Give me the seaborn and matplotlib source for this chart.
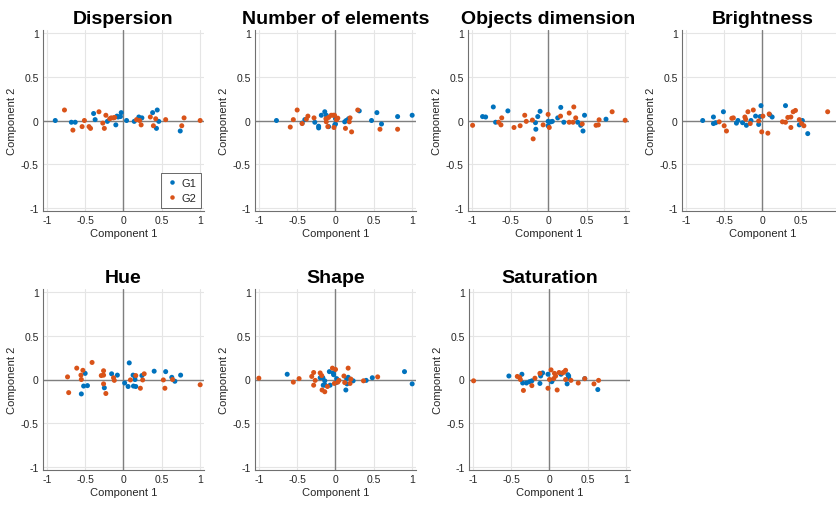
import seaborn as sns
import matplotlib.pyplot as plt
import pandas as pd

# (component 1, component 2) pairs, per panel and group
disp_g1 = [(-0.89, 0.0), (-0.68, -0.02), (-0.63, -0.02), (-0.39, 0.08), (-0.37, 0.01),
           (-0.21, -0.01), (-0.10, -0.05), (-0.085, 0.05), (-0.07, 0.04), (-0.03, 0.09),
           (-0.04, 0.045), (0.04, 0.0), (0.14, -0.01), (0.20, 0.04), (0.24, 0.03),
           (0.38, 0.09), (0.44, 0.12), (0.43, -0.09), (0.46, -0.01), (0.74, -0.12)]
disp_g2 = [(-0.77, 0.12), (-0.66, -0.11), (-0.54, -0.07), (-0.51, 0.0), (-0.45, -0.07),
           (-0.43, -0.09), (-0.32, 0.10), (-0.27, -0.03), (-0.25, -0.09), (-0.23, 0.06),
           (-0.18, 0.02), (-0.16, 0.03), (-0.13, 0.03), (-0.115, 0.035), (0.17, 0.01),
           (0.21, 0.0), (0.23, -0.05), (0.35, 0.04), (0.39, -0.06), (0.42, 0.02),
           (0.55, 0.01), (0.76, -0.06), (0.79, 0.03), (1.0, 0.0)]

num_g1 = [(-0.77, 0.0), (-0.40, 0.01), (-0.435, -0.03), (-0.27, -0.02), (-0.22, -0.065),
          (-0.22, -0.085), (-0.185, 0.06), (-0.14, 0.10), (-0.12, 0.06), (-0.09, -0.07),
          (-0.01, -0.05), (0.0, -0.04), (0.0, 0.02), (0.12, -0.015), (0.14, 0.0),
          (0.17, 0.02), (0.31, 0.11), (0.47, 0.0), (0.54, 0.09), (0.60, -0.04),
          (0.81, 0.045), (1.0, 0.06)]
num_g2 = [(-0.59, -0.075), (-0.55, 0.01), (-0.50, 0.12), (-0.435, -0.035), (-0.38, 0.015),
          (-0.36, 0.05), (-0.28, 0.03), (-0.125, 0.02), (-0.12, -0.015), (-0.10, -0.07),
          (-0.09, 0.035), (-0.056, 0.06), (-0.03, 0.06), (-0.013, 0.06), (-0.02, -0.08),
          (0.03, 0.027), (0.013, 0.008), (0.13, -0.09), (0.19, 0.03), (0.18, -0.015),
          (0.21, -0.13), (0.29, 0.12), (0.58, -0.10), (0.81, -0.10)]

obj_g1 = [(-0.86, 0.045), (-0.82, 0.04), (-0.72, 0.155), (-0.69, -0.02), (-0.53, 0.11),
          (-0.17, -0.025), (-0.165, -0.10), (-0.14, 0.045), (-0.11, 0.105), (-0.005, -0.01),
          (-0.005, -0.06), (0.03, -0.015), (0.05, -0.01), (0.12, 0.03), (0.16, 0.15),
          (0.20, -0.02), (0.38, -0.02), (0.42, -0.055), (0.45, -0.12), (0.47, 0.06),
          (0.75, 0.015)]
obj_g2 = [(-0.99, -0.055), (-0.65, -0.02), (-0.62, -0.05), (-0.61, 0.03), (-0.45, -0.08),
          (-0.37, -0.06), (-0.31, 0.06), (-0.29, -0.01), (-0.21, 0.005), (-0.20, -0.21),
          (-0.07, -0.05), (-0.005, 0.07), (0.01, -0.08), (0.157, 0.05), (0.27, 0.085),
          (0.27, -0.02), (0.32, -0.02), (0.33, 0.155), (0.355, 0.03), (0.44, -0.04),
          (0.62, -0.055), (0.65, -0.05), (0.66, 0.008), (0.83, 0.10), (1.0, 0.003)]

bri_g1 = [(-0.78, 0.0), (-0.64, 0.04), (-0.64, -0.035), (-0.61, -0.025), (-0.51, 0.10),
          (-0.34, -0.03), (-0.32, 0.0), (-0.26, -0.025), (-0.21, -0.055), (-0.15, 0.0),
          (-0.09, 0.05), (-0.05, -0.045), (-0.02, 0.17), (-0.03, 0.045), (0.095, 0.065),
          (0.126, 0.04), (0.30, 0.17), (0.48, -0.05), (0.52, 0.0), (0.59, -0.15)]
bri_g2 = [(-0.565, -0.015), (-0.50, -0.06), (-0.47, -0.12), (-0.40, 0.025), (-0.38, 0.03),
          (-0.23, 0.04), (-0.22, 0.015), (-0.19, 0.10), (-0.16, -0.035), (-0.12, 0.12),
          (-0.05, -0.005), (-0.01, -0.13), (0.005, 0.05), (0.07, -0.145), (0.087, 0.075),
          (0.26, -0.015), (0.30, -0.02), (0.33, 0.035), (0.37, 0.04), (0.37, -0.08),
          (0.40, 0.10), (0.43, 0.115), (0.48, 0.01), (0.51, -0.035), (0.54, -0.06),
          (0.85, 0.10), (1.0, -0.04)]

hue_g1 = [(-0.55, -0.165), (-0.52, -0.075), (-0.50, 0.07), (-0.47, -0.07), (-0.25, -0.095),
          (-0.155, 0.065), (-0.08, 0.05), (0.015, -0.04), (0.06, -0.08), (0.075, 0.19),
          (0.125, 0.05), (0.13, -0.075), (0.15, 0.035), (0.15, 0.0), (0.16, -0.08),
          (0.24, 0.045), (0.40, 0.095), (0.55, 0.09), (0.63, 0.025), (0.67, -0.02),
          (0.745, 0.05)]
hue_g2 = [(-0.73, 0.03), (-0.715, -0.15), (-0.61, 0.13), (-0.555, 0.05), (-0.55, 0.0),
          (-0.53, 0.105), (-0.41, 0.195), (-0.29, 0.045), (-0.26, 0.05), (-0.26, 0.10),
          (-0.26, -0.05), (-0.23, -0.16), (-0.13, 0.02), (-0.12, -0.01), (0.09, -0.005),
          (0.16, 0.045), (0.22, -0.10), (0.25, -0.005), (0.27, 0.065), (0.52, -0.005),
          (0.54, -0.10), (0.64, 0.0), (1.0, -0.06)]

shp_g1 = [(-0.63, 0.06), (-0.20, 0.02), (-0.165, 0.02), (-0.16, -0.065), (-0.14, -0.015),
          (-0.135, -0.065), (-0.08, 0.09), (-0.07, -0.065), (-0.03, 0.075), (-0.025, 0.055),
          (0.015, 0.01), (0.01, -0.035), (0.135, -0.12), (0.145, 0.01), (0.15, -0.05),
          (0.165, 0.025), (0.23, -0.015), (0.40, -0.01), (0.48, 0.02), (0.90, 0.09),
          (1.0, -0.05)]
shp_g2 = [(-1.0, 0.015), (-0.55, -0.03), (-0.475, 0.01), (-0.31, 0.035), (-0.285, 0.08),
          (-0.285, -0.065), (-0.265, -0.01), (-0.20, 0.075), (-0.18, 0.045), (-0.175, -0.12),
          (-0.14, -0.14), (-0.105, -0.08), (-0.04, 0.13), (0.0, 0.115), (-0.015, -0.045),
          (0.03, -0.03), (0.045, -0.01), (0.11, 0.04), (0.12, -0.035), (0.165, 0.13),
          (0.19, -0.045), (0.20, 0.005), (0.365, -0.015), (0.55, 0.03)]

sat_g1 = [(-0.53, 0.04), (-0.36, 0.06), (-0.35, -0.04), (-0.30, -0.04), (-0.26, -0.025),
          (-0.23, -0.015), (-0.125, -0.045), (-0.115, 0.055), (-0.115, 0.04), (-0.09, 0.075),
          (-0.02, 0.06), (0.03, -0.025), (0.035, -0.01), (0.15, 0.06), (0.23, -0.05),
          (0.24, 0.055), (0.25, 0.02), (0.25, 0.04), (0.46, 0.01), (0.63, -0.115)]
sat_g2 = [(-0.99, -0.015), (-0.42, 0.035), (-0.39, 0.025), (-0.38, 0.0), (-0.34, -0.125),
          (-0.23, -0.07), (-0.19, 0.015), (-0.125, 0.07), (-0.02, -0.10), (0.0, 0.0),
          (0.02, 0.11), (0.055, 0.01), (0.065, 0.07), (0.08, 0.04), (0.10, -0.12),
          (0.125, 0.08), (0.17, 0.075), (0.19, 0.085), (0.21, 0.105), (0.21, 0.0),
          (0.28, -0.01), (0.375, -0.04), (0.46, 0.01), (0.58, -0.05), (0.64, -0.01)]

titles = ["Dispersion", "Number of elements", "Objects dimension", "Brightness",
          "Hue", "Shape", "Saturation"]
panels = [(disp_g1, disp_g2), (num_g1, num_g2), (obj_g1, obj_g2), (bri_g1, bri_g2),
          (hue_g1, hue_g2), (shp_g1, shp_g2), (sat_g1, sat_g2)]
ticks = [-1, -0.5, 0, 0.5, 1]
tick_labels = ["-1", "-0.5", "0", "0.5", "1"]
colors = {"G1": "#0072BD", "G2": "#D95319"}

sns.set_style("white")
plt.rcParams['font.family'] = ['Liberation Sans', 'DejaVu Sans']
plt.rcParams['axes.unicode_minus'] = False

fig = plt.figure(figsize=(8.37, 5.06), dpi=100)
W, H = 837, 506
lefts = [43, 255, 468, 682, 43, 255, 469]
tops = [31, 31, 31, 31, 290, 290, 290]
aw, ah = 161, 181

for i, (title, (g1, g2)) in enumerate(zip(titles, panels)):
    ax = fig.add_axes([lefts[i] / W, 1 - (tops[i] + ah) / H, aw / W, ah / H])
    df = pd.DataFrame(g1 + g2, columns=["c1", "c2"])
    df["group"] = ["G1"] * len(g1) + ["G2"] * len(g2)
    ax.axhline(0, color="#7f7f7f", lw=1, zorder=1.5)
    ax.axvline(0, color="#7f7f7f", lw=1, zorder=1.5)
    sns.scatterplot(data=df, x="c1", y="c2", hue="group", palette=colors, s=13,
                    linewidth=0, ax=ax, legend=(i == 0), zorder=3)
    ax.set_xlim(-1.05, 1.05)
    ax.set_ylim(-1.035, 1.035)
    ax.set_xticks(ticks)
    ax.set_xticklabels(tick_labels)
    ax.set_yticks(ticks)
    ax.set_yticklabels(tick_labels)
    ax.grid(True, color="#e5e5e5", lw=0.8)
    ax.set_axisbelow(True)
    for side in ["top", "right"]:
        ax.spines[side].set_visible(False)
    for side in ["left", "bottom"]:
        ax.spines[side].set_color("#707070")
        ax.spines[side].set_linewidth(0.8)
    ax.tick_params(direction="in", length=3, width=0.6, color="#707070",
                   labelsize=7.5, labelcolor="#262626", pad=3)
    ax.set_xlabel("Component 1", fontsize=8, color="#262626", labelpad=2)
    ax.set_ylabel("Component 2", fontsize=8, color="#262626", labelpad=3)
    ax.set_title(title, fontsize=14, fontweight="bold", color="black", pad=5)
    if i == 0:
        leg = ax.legend(loc="lower right", fontsize=8, frameon=True, fancybox=False,
                        edgecolor="#262626", handletextpad=0.2, borderaxespad=0.3,
                        handlelength=1.2, markerscale=0.9, borderpad=0.4, title=None)
        leg.get_frame().set_linewidth(0.6)

fig.savefig("out.png", dpi=100)
